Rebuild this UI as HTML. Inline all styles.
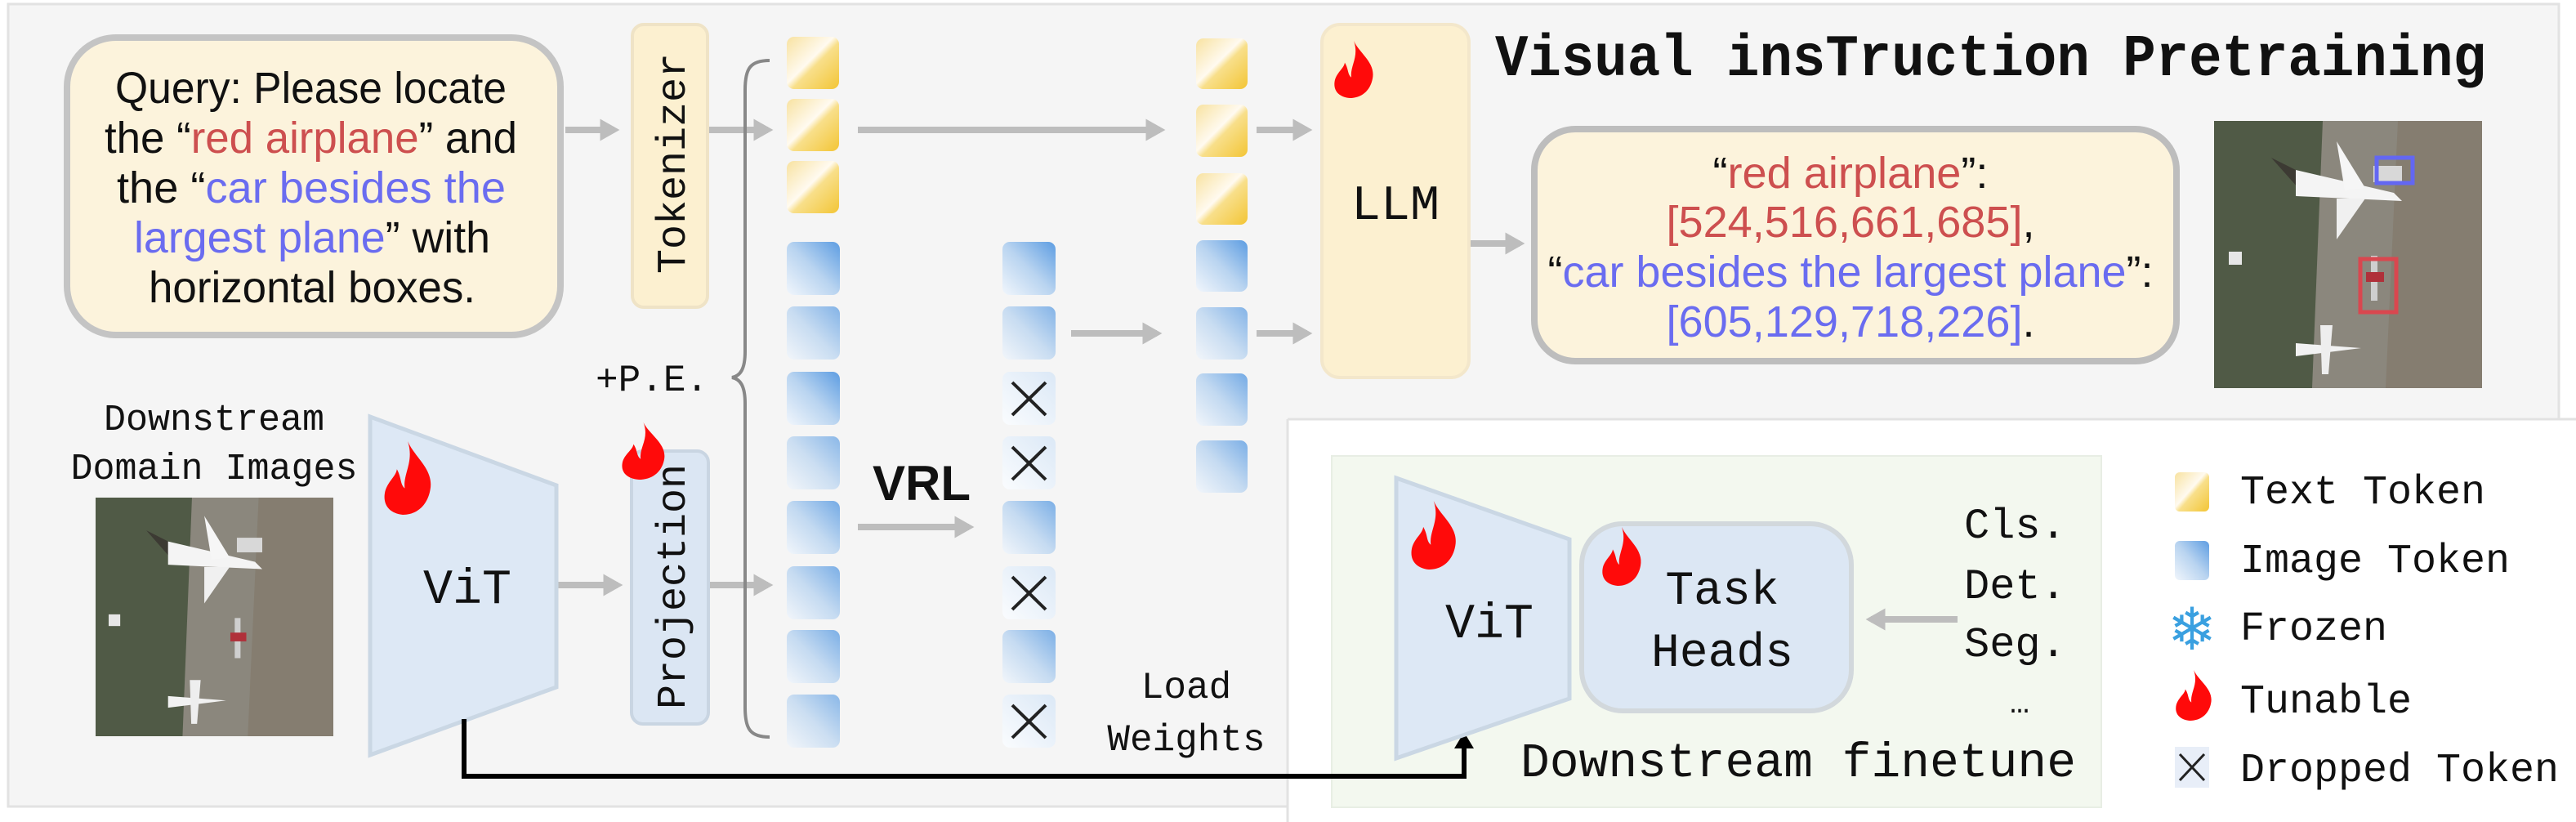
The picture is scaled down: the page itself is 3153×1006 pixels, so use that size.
<!DOCTYPE html>
<html><head><meta charset="utf-8"><style>
html,body{margin:0;padding:0;background:#fff;}
svg{display:block;}
.m{font-family:"Liberation Mono",monospace;}
.s{font-family:"Liberation Sans Narrow","Liberation Sans",sans-serif;}
</style></head><body>
<svg width="3153" height="1006" viewBox="0 0 3153 1006" xmlns="http://www.w3.org/2000/svg">
<defs>
<linearGradient id="gb" x1="1" y1="0" x2="0" y2="1">
<stop offset="0" stop-color="#5d9de2"/><stop offset="0.5" stop-color="#b9d4f0"/><stop offset="1" stop-color="#f1f6fc"/></linearGradient>
<linearGradient id="gy" x1="1" y1="1" x2="0" y2="0">
<stop offset="0" stop-color="#f3c535"/><stop offset="0.45" stop-color="#f8df8a"/><stop offset="0.55" stop-color="#fffaf0"/><stop offset="1" stop-color="#f8e2a0"/></linearGradient>
<linearGradient id="gx" x1="1" y1="0" x2="0" y2="1">
<stop offset="0" stop-color="#dbe8f6"/><stop offset="1" stop-color="#fafcfe"/></linearGradient>
<path id="fl" d="M25,0 C32,22 52,38 48,66 C45,88 34,100 20,100 C6,98 -1,86 2,68 C5,54 13,48 14,38 C19,50 17,58 22,64 C20,44 32,28 25,0 Z" fill="#ff0a0a"/>
<marker id="ag" markerWidth="4" markerHeight="4" refX="2.2" refY="2" orient="auto" markerUnits="strokeWidth"><path d="M0,0.3 L3,2 L0,3.7 Z" fill="#bdbdbd"/></marker>
<g id="scene">
<rect x="0" y="0" width="328" height="327" fill="#505a46"/>
<path d="M133,0 L328,0 L328,327 L120,327 Z" fill="#8b877d"/>
<path d="M225,0 L328,0 L328,327 L210,327 Z" fill="#857d70"/>
<path d="M70,45 L120,70 L110,90 Z" fill="#3c3a33"/>
<path d="M100,60 L220,88 L230,98 L100,92 Z" fill="#f4f4f4"/>
<path d="M150,25 L185,82 L160,85 Z" fill="#f6f6f6"/>
<path d="M150,95 L185,95 L150,145 Z" fill="#f0f0f0"/>
<rect x="195" y="55" width="35" height="20" fill="#d8d8d8"/>
<path d="M100,272 L180,278 L100,288 Z" fill="#f2f2f2"/>
<path d="M130,250 L145,250 L140,310 L132,310 Z" fill="#eeeeee"/>
<rect x="192" y="165" width="8" height="55" fill="#cfcfcf"/>
<rect x="186" y="185" width="22" height="12" fill="#b0303a"/>
<rect x="18" y="160" width="16" height="16" fill="#e6e6e6"/>
</g>
</defs>

<rect x="10" y="5" width="3122" height="982" fill="#f5f5f5" stroke="#e2e2e2" stroke-width="3"/>
<rect x="1576" y="513" width="1577" height="493" fill="#ffffff"/>
<line x1="1576" y1="513" x2="3153" y2="513" stroke="#e2e2e2" stroke-width="3"/>
<line x1="1576" y1="513" x2="1576" y2="1006" stroke="#e2e2e2" stroke-width="3"/>
<rect x="1630" y="558" width="942" height="430" fill="#f3f8ef" stroke="#e8eee4" stroke-width="2"/>

<rect x="82" y="46" width="604" height="364" rx="60" fill="#fcf3dc" stroke="#c4c4c4" stroke-width="8"/>
<g class="s" font-size="54" fill="#111" lengthAdjust="spacingAndGlyphs">
<text x="141" y="126" textLength="479" lengthAdjust="spacingAndGlyphs">Query: Please locate</text>
<text x="128" y="187" textLength="505" lengthAdjust="spacingAndGlyphs">the “<tspan fill="#cd4f4f">red airplane</tspan>” and</text>
<text x="143" y="248" textLength="476" lengthAdjust="spacingAndGlyphs">the “<tspan fill="#6a6cf0">car besides the</tspan></text>
<text x="164" y="309" textLength="436" lengthAdjust="spacingAndGlyphs"><tspan fill="#6a6cf0">largest plane</tspan>” with</text>
<text x="182" y="370" textLength="400" lengthAdjust="spacingAndGlyphs">horizontal boxes.</text>
</g>

<rect x="774" y="30" width="92" height="346" rx="14" fill="#fcf0d0" stroke="#efe3c6" stroke-width="4"/>
<text class="m" font-size="50" transform="translate(838,200) rotate(-90)" text-anchor="middle" fill="#111">Tokenizer</text>

<g stroke="#bdbdbd" stroke-width="8" fill="none" marker-end="url(#ag)">
<line x1="692" y1="159" x2="752" y2="159"/>
<line x1="868" y1="159" x2="940" y2="159"/>
<line x1="1050" y1="159" x2="1420" y2="159"/>
<line x1="1050" y1="645" x2="1186" y2="645"/>
<line x1="1311" y1="408" x2="1416" y2="408"/>
<line x1="1538" y1="159" x2="1600" y2="159"/>
<line x1="1538" y1="408" x2="1600" y2="408"/>
<line x1="1800" y1="298" x2="1860" y2="298"/>
<line x1="683" y1="716" x2="756" y2="716"/>
<line x1="868" y1="716" x2="940" y2="716"/>
<line x1="2396" y1="758" x2="2290" y2="758"/>
</g>

<path d="M942,74 C918,74 912,84 912,110 L912,430 C912,452 906,460 896,462 C906,464 912,472 912,494 L912,866 C912,892 918,902 942,902" fill="none" stroke="#888" stroke-width="4"/>
<text class="m" x="729" y="478" font-size="46" fill="#111">+P.E.</text>

<g>
<rect x="963" y="45" width="64" height="64" rx="9" fill="url(#gy)"/>
<rect x="963" y="121" width="64" height="64" rx="9" fill="url(#gy)"/>
<rect x="963" y="197" width="64" height="64" rx="9" fill="url(#gy)"/>
<rect x="963" y="296" width="65" height="65" rx="9" fill="url(#gb)"/>
<rect x="963" y="375" width="65" height="65" rx="9" fill="url(#gb)" opacity="0.75"/>
<rect x="963" y="455" width="65" height="65" rx="9" fill="url(#gb)"/>
<rect x="963" y="534" width="65" height="65" rx="9" fill="url(#gb)" opacity="0.7"/>
<rect x="963" y="613" width="65" height="65" rx="9" fill="url(#gb)" opacity="0.85"/>
<rect x="963" y="693" width="65" height="65" rx="9" fill="url(#gb)" opacity="0.8"/>
<rect x="963" y="771" width="65" height="65" rx="9" fill="url(#gb)" opacity="0.8"/>
<rect x="963" y="850" width="65" height="65" rx="9" fill="url(#gb)" opacity="0.7"/>
</g>
<g>
<rect x="1227" y="296" width="65" height="65" rx="9" fill="url(#gb)"/>
<rect x="1227" y="375" width="65" height="65" rx="9" fill="url(#gb)" opacity="0.75"/>
<rect x="1227" y="455" width="65" height="65" rx="9" fill="url(#gx)"/>
<rect x="1227" y="534" width="65" height="65" rx="9" fill="url(#gx)"/>
<rect x="1227" y="613" width="65" height="65" rx="9" fill="url(#gb)" opacity="0.8"/>
<rect x="1227" y="693" width="65" height="65" rx="9" fill="url(#gx)"/>
<rect x="1227" y="771" width="65" height="65" rx="9" fill="url(#gb)" opacity="0.8"/>
<rect x="1227" y="850" width="65" height="65" rx="9" fill="url(#gx)"/>
<g stroke="#222" stroke-width="4">
<path d="M1239,468 L1280,508 M1280,468 L1239,508"/>
<path d="M1239,547 L1280,587 M1280,547 L1239,587"/>
<path d="M1239,706 L1280,746 M1280,706 L1239,746"/>
<path d="M1239,863 L1280,903 M1280,863 L1239,903"/>
</g>
</g>
<text x="1068" y="612" font-family="Liberation Sans,sans-serif" font-weight="bold" font-size="60" fill="#111">VRL</text>

<g>
<rect x="1464" y="47" width="63" height="62" rx="9" fill="url(#gy)"/>
<rect x="1464" y="128" width="63" height="64" rx="9" fill="url(#gy)"/>
<rect x="1464" y="212" width="63" height="63" rx="9" fill="url(#gy)"/>
<rect x="1464" y="294" width="63" height="63" rx="9" fill="url(#gb)"/>
<rect x="1464" y="376" width="63" height="64" rx="9" fill="url(#gb)" opacity="0.75"/>
<rect x="1464" y="457" width="63" height="64" rx="9" fill="url(#gb)" opacity="0.85"/>
<rect x="1464" y="539" width="63" height="64" rx="9" fill="url(#gb)" opacity="0.8"/>
</g>

<rect x="1618" y="30" width="180" height="432" rx="22" fill="#fcf0d0" stroke="#f3e7cb" stroke-width="4"/>
<use href="#fl" transform="translate(1632,50) scale(1.0,0.7)"/>
<text class="m" x="1708" y="268" font-size="60" text-anchor="middle" fill="#111">LLM</text>

<rect x="1878" y="158" width="786" height="284" rx="50" fill="#fcf3dc" stroke="#bdbdbd" stroke-width="8"/>
<g class="s" font-size="54" text-anchor="middle">
<text x="2265" y="230" fill="#cd4f4f" textLength="337" lengthAdjust="spacingAndGlyphs"><tspan fill="#111">“</tspan>red airplane<tspan fill="#111">”:</tspan></text>
<text x="2265" y="290" fill="#cd4f4f" textLength="451" lengthAdjust="spacingAndGlyphs">[524,516,661,685]<tspan fill="#111">,</tspan></text>
<text x="2265" y="351" fill="#6a6cf0" textLength="741" lengthAdjust="spacingAndGlyphs"><tspan fill="#111">“</tspan>car besides the largest plane<tspan fill="#111">”:</tspan></text>
<text x="2265" y="412" fill="#6a6cf0" textLength="451" lengthAdjust="spacingAndGlyphs">[605,129,718,226]<tspan fill="#111">.</tspan></text>
</g>

<text class="m" x="1830" y="92" font-size="72" font-weight="bold" fill="#111" textLength="1213" lengthAdjust="spacingAndGlyphs">Visual insTruction Pretraining</text>

<g transform="translate(2710,148)"><use href="#scene"/>
<rect x="199" y="45" width="44" height="31" fill="none" stroke="#6367f2" stroke-width="5"/>
<rect x="179" y="169" width="44" height="65" fill="none" stroke="#d9474f" stroke-width="5"/>
</g>
<g transform="translate(117,609) scale(0.887,0.893)"><use href="#scene"/></g>

<text class="m" x="262" y="526" font-size="45" text-anchor="middle" fill="#111">Downstream</text>
<text class="m" x="262" y="586" font-size="45" text-anchor="middle" fill="#111">Domain Images</text>

<polygon points="453,510 681,594 681,841 453,924" fill="#dde8f5" stroke="#cad7e4" stroke-width="5"/>
<use href="#fl" transform="translate(469,540) scale(1.2,0.9)"/>
<text class="m" x="572" y="738" font-size="60" text-anchor="middle" fill="#111">ViT</text>

<rect x="773" y="552" width="94" height="334" rx="14" fill="#dbe6f3" stroke="#c9d5e2" stroke-width="4"/>
<text class="m" font-size="50" transform="translate(838,718) rotate(-90)" text-anchor="middle" fill="#111">Projection</text>
<use href="#fl" transform="translate(760,517) scale(1.1,0.7)"/>

<path d="M568,880 L568,950 L1792,950 L1792,912" fill="none" stroke="#000" stroke-width="6"/>
<path d="M1780,916 L1792,896 L1804,916 Z" fill="#000"/>

<text class="m" x="1452" y="854" font-size="46" text-anchor="middle" fill="#111">Load</text>
<text class="m" x="1452" y="918" font-size="46" text-anchor="middle" fill="#111">Weights</text>

<polygon points="1709,585 1921,660 1921,855 1709,928" fill="#dde8f5" stroke="#cad7e4" stroke-width="5"/>
<use href="#fl" transform="translate(1726,613) scale(1.15,0.84)"/>
<text class="m" x="1823" y="780" font-size="60" text-anchor="middle" fill="#111">ViT</text>

<rect x="1936" y="641" width="330" height="229" rx="50" fill="#dce7f4" stroke="#d2d8dc" stroke-width="6"/>
<use href="#fl" transform="translate(1960,645) scale(1.0,0.72)"/>
<text class="m" x="2108" y="739" font-size="58" text-anchor="middle" fill="#111">Task</text>
<text class="m" x="2108" y="815" font-size="58" text-anchor="middle" fill="#111">Heads</text>

<g class="m" font-size="52" fill="#111">
<text x="2404" y="658">Cls.</text>
<text x="2404" y="732">Det.</text>
<text x="2404" y="803">Seg.</text>
<text x="2460" y="872" font-size="40">…</text>
</g>
<text class="m" x="1861" y="950" font-size="59" fill="#111" textLength="680" lengthAdjust="spacingAndGlyphs">Downstream finetune</text>

<rect x="2662" y="578" width="42" height="48" rx="6" fill="url(#gy)"/>
<rect x="2662" y="662" width="42" height="48" rx="6" fill="url(#gb)"/>
<text x="2683" y="795" font-size="72" text-anchor="middle" fill="#3aa0e0" font-family="DejaVu Sans,sans-serif">❄</text>
<use href="#fl" transform="translate(2662,820) scale(0.92,0.62)"/>
<rect x="2662" y="914" width="42" height="50" fill="#e8eef8"/>
<path d="M2668,923 L2698,955 M2698,923 L2668,955" stroke="#222" stroke-width="3"/>
<g class="m" font-size="50" fill="#111">
<text x="2742" y="616">Text Token</text>
<text x="2742" y="700">Image Token</text>
<text x="2742" y="783">Frozen</text>
<text x="2742" y="872">Tunable</text>
<text x="2742" y="956">Dropped Token</text>
</g>
</svg>
</body></html>
